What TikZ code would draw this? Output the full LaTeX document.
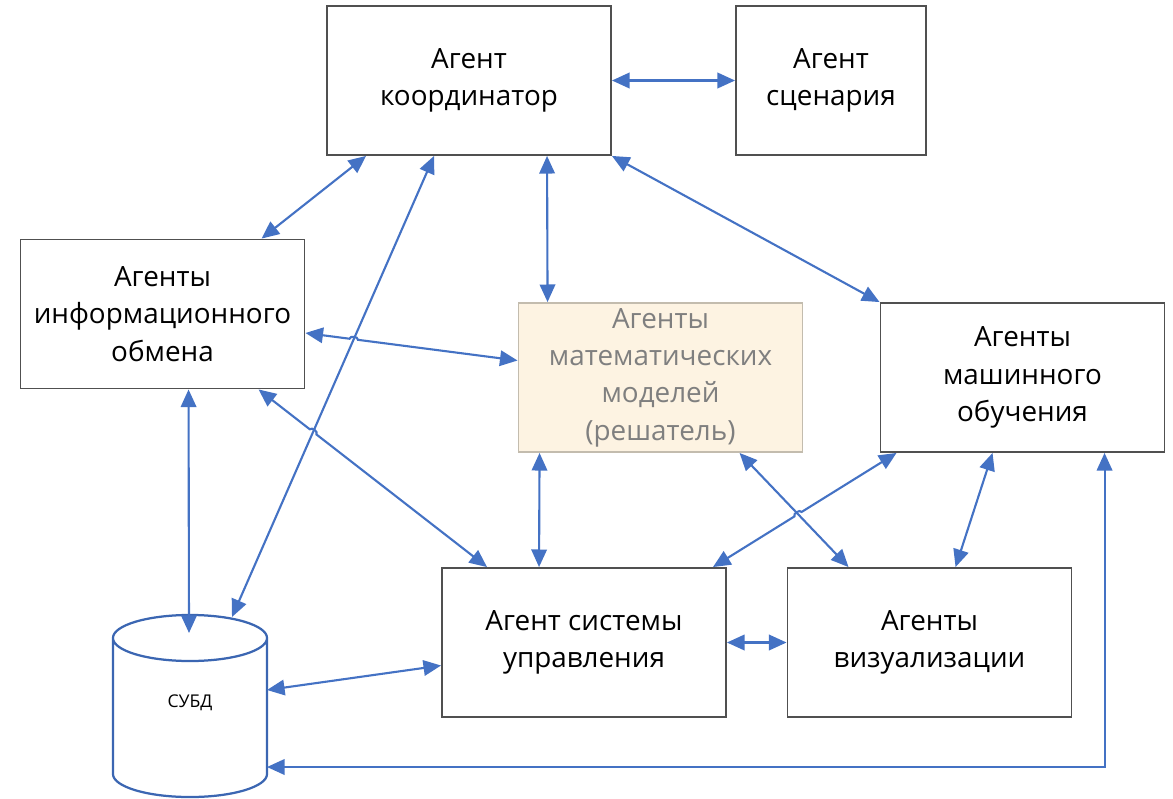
\documentclass[tikz,border=0pt]{standalone}
\usepackage{fontspec}
\setmainfont{Open Sans}
\usetikzlibrary{arrows.meta,shapes.geometric,calc,intersections}

\definecolor{linkblue}{HTML}{4472C4}
\definecolor{dbblue}{HTML}{3B66B2}
\definecolor{boxgray}{HTML}{505050}
\definecolor{solverfill}{HTML}{FDF3E2}
\definecolor{solverline}{HTML}{C3BCAE}
\definecolor{solvertext}{HTML}{7F7F7F}

\begin{document}
\begin{tikzpicture}[
  x=0.025cm, y=-0.025cm,
  >={Triangle[length=12.5pt,width=11pt]},
  font=\fontsize{19.8}{26.5}\selectfont,
  agent/.style={
    draw=boxgray,
    line width=1.3pt,
    minimum width=7.1cm,
    minimum height=3.725cm,
    align=center
  },
  solver/.style={agent, fill=solverfill, draw=solverline, text=solvertext},
  dbcyl/.style={
    shape=cylinder,
    shape border rotate=90,
    aspect=0.85,
    draw=dbblue,
    line width=1.6pt,
    minimum width=3.85cm,
    minimum height=4.55cm,
    anchor=shape center,
    font=\fontsize{12.5}{14}\selectfont
  },
  link/.style={<->, draw=linkblue, line width=1.5pt}
  ]
  \useasboundingbox (0,0) rectangle (1173,798);

  \node [agent] (coord) at (469,80.5) {Агент\\координатор};
  \node [agent, minimum width=4.75cm] (scen) at (831,80.5) {Агент\\сценария};
  \node [agent] (info) at (162.5,314) {Агенты\\информационного\\обмена};
  \node [solver] (math) at (660.5,377.5) {Агенты\\математических\\моделей\\(решатель)};
  \node [agent] (ml) at (1022.5,377.5) {Агенты\\машинного\\обучения};
  \node [agent] (ctrl) at (584,642.5) {Агент системы\\управления};
  \node [agent] (vis) at (929.5,642.5) {Агенты\\визуализации};
  \node [dbcyl] (db) at (190,706) {\phantom{СУБД}};
  \node [font=\fontsize{12.5}{14}\selectfont] (dbname) at ($(db.shape center)+(0,-3)$) {СУБД};

  \draw[link] (coord.east) -- (scen.west);
  \draw[link] ($(coord.south west)+(40,0)$) -- ($(info.north west)+(242,0)$);
  \draw[link] ($(coord.south west)+(221,0)$) -- ($(math.north west)+(30,0)$);
  \draw[link] (coord.south east) -- (ml.north west);
  \draw[link] ($(info.south west)+(169,0)$) -- ($(db.shape center)+(-1,-73)$);
  \draw[link] ($(math.south west)+(22,0)$) -- ($(ctrl.north west)+(98,0)$);
  \draw[link] ($(ml.south west)+(113,0)$) -- ($(vis.north west)+(169,0)$);
  \draw[link] (ctrl.east) -- (vis.west);
  \draw[link] ($(db.shape center)+(77,-16)$) -- ($(ctrl.west)+(0,23)$);
  \draw[link] ($(ml.south west)+(225,0)$) |- ($(db.shape center)+(77,61)$);

  \draw[link, name path=trunk] ($(coord.south west)+(108,0)$) -- ($(db.shape center)+(42,-89)$);
  \draw[link, name path=diag] ($(math.south west)+(222,0)$) -- ($(vis.north west)+(62,0)$);

  \coordinate (ie1) at ($(info.east)+(0,19)$);
  \coordinate (ie2) at ($(math.west)+(0,-17)$);
  \path[name path=iepath] (ie1) -- (ie2);
  \path[name intersections={of=trunk and iepath, by=hop1}];
  \draw[link] (ie1) -- ($(hop1)!3pt!(ie1)$) to[bend left=90] ($(hop1)!3pt!(ie2)$) -- (ie2);

  \coordinate (ic1) at ($(info.south west)+(239,0)$);
  \coordinate (ic2) at ($(ctrl.north west)+(46,0)$);
  \path[name path=icpath] (ic1) -- (ic2);
  \path[name intersections={of=trunk and icpath, by=hop2}];
  \draw[link] (ic1) -- ($(hop2)!3pt!(ic1)$) to[bend left=90] ($(hop2)!3pt!(ic2)$) -- (ic2);

  \coordinate (mc1) at ($(ctrl.north east)+(-14,0)$);
  \coordinate (mc2) at ($(ml.south west)+(17,0)$);
  \path[name path=mcpath] (mc1) -- (mc2);
  \path[name intersections={of=diag and mcpath, by=hop3}];
  \draw[link] (mc1) -- ($(hop3)!3pt!(mc1)$) to[bend left=90] ($(hop3)!3pt!(mc2)$) -- (mc2);
\end{tikzpicture}
\end{document}
